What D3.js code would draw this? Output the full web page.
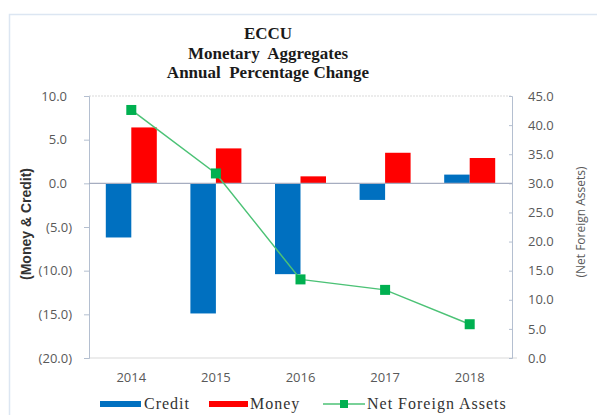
<!DOCTYPE html>
<html>
<head>
<meta charset="utf-8">
<script src="https://cdn.jsdelivr.net/npm/d3@7"></script>
<style>
  body { margin: 0; background: #fff; }
  .tick text { font-family: "Open Sans", "DejaVu Sans", sans-serif; fill: #595959; }
</style>
</head>
<body>
<div id="chart"></div>
<script>
// ==============================
// Chart data
// ==============================
var years = ["2014", "2015", "2016", "2017", "2018"];
var credit = [-6.2, -14.9, -10.4, -1.9, 1.0];
var money = [6.4, 4.0, 0.8, 3.5, 2.9];
var nfa = [42.6, 31.7, 13.5, 11.7, 5.8];
var leftTicks = [10, 5, 0, -5, -10, -15, -20];
var rightTicks = [0, 5, 10, 15, 20, 25, 30, 35, 40, 45];
var titleLines = ["ECCU", "Monetary  Aggregates", "Annual  Percentage Change"];

// ==============================
// Setup SVG area
// ==============================
var svgWidth = 597, svgHeight = 415;
var margin = { top: 96, right: 85, bottom: 57, left: 89 };
var width = svgWidth - margin.left - margin.right;
var height = svgHeight - margin.top - margin.bottom;

var svg = d3.select("#chart").append("svg")
  .attr("width", svgWidth)
  .attr("height", svgHeight);

// Outer chart border (runs off the right/bottom edge)
svg.append("path")
  .attr("d", "M9.5,415 V14.5 H597")
  .attr("fill", "none")
  .attr("stroke", "#dce6f2")
  .attr("stroke-width", 1.5);

var chartGroup = svg.append("g")
  .attr("transform", `translate(${margin.left}, ${margin.top})`);

// Scales
var xScale = d3.scaleBand().domain(years).range([0, width]);
var yLeft = d3.scaleLinear().domain([-20, 10]).range([height, 0]);
var yRight = d3.scaleLinear().domain([0, 45]).range([height, 0]);

// Accounting style: negatives in brackets
var fmtLeft = function(d) {
  return d < 0 ? "(" + d3.format(".1f")(-d) + ")" : d3.format(".1f")(d);
};

// Top gridline and bottom border
chartGroup.append("line")
  .attr("x1", 0).attr("x2", width)
  .attr("y1", yLeft(10)).attr("y2", yLeft(10))
  .attr("stroke", "#d9d9d9").attr("stroke-dasharray", "2,1");
chartGroup.append("line")
  .attr("x1", 0).attr("x2", width + 5)
  .attr("y1", height).attr("y2", height)
  .attr("stroke", "#d9d9d9");

// Left axis
var gLeft = chartGroup.append("g")
  .call(d3.axisLeft(yLeft).tickValues(leftTicks).tickFormat(fmtLeft).tickSize(5).tickPadding(12));
gLeft.select(".domain").attr("stroke", "#b4bfd0");
gLeft.selectAll(".tick line").attr("stroke", "#b4bfd0");
gLeft.selectAll(".tick text")
  .style("font-size", "13px")
  .attr("dx", d => d >= 0 ? -5 : 0);

// Right axis
var gRight = chartGroup.append("g")
  .attr("transform", `translate(${width}, 0)`)
  .call(d3.axisRight(yRight).tickValues(rightTicks).tickFormat(d3.format(".1f")).tickSize(-3).tickPadding(16));
gRight.select(".domain").attr("stroke", "#b4bfd0");
gRight.selectAll(".tick line").attr("stroke", "#b4bfd0");
gRight.selectAll(".tick text").style("font-size", "13px");

// Bars
var barW = 25.5;
chartGroup.selectAll(".credit")
  .data(credit)
  .enter().append("rect")
  .attr("class", "credit")
  .attr("x", (d, i) => xScale(years[i]) + xScale.bandwidth() / 2 - barW)
  .attr("y", d => yLeft(Math.max(0, d)))
  .attr("width", barW)
  .attr("height", d => Math.abs(yLeft(d) - yLeft(0)))
  .attr("fill", "#0070c0");

chartGroup.selectAll(".money")
  .data(money)
  .enter().append("rect")
  .attr("class", "money")
  .attr("x", (d, i) => xScale(years[i]) + xScale.bandwidth() / 2)
  .attr("y", d => yLeft(Math.max(0, d)))
  .attr("width", barW)
  .attr("height", d => Math.abs(yLeft(d) - yLeft(0)))
  .attr("fill", "#ff0000");

// Zero line
chartGroup.append("line")
  .attr("x1", 0).attr("x2", width)
  .attr("y1", yLeft(0)).attr("y2", yLeft(0))
  .attr("stroke", "#a6adc0").attr("stroke-width", 1.2);

// Net foreign assets line
var line = d3.line()
  .x((d, i) => xScale(years[i]) + xScale.bandwidth() / 2)
  .y(d => yRight(d));

chartGroup.append("path")
  .datum(nfa)
  .attr("d", line)
  .attr("fill", "none")
  .attr("stroke", "#4cc276")
  .attr("stroke-width", 1.5);

var mk = 10;
chartGroup.selectAll(".nfa")
  .data(nfa)
  .enter().append("rect")
  .attr("class", "nfa")
  .attr("x", (d, i) => xScale(years[i]) + xScale.bandwidth() / 2 - mk / 2)
  .attr("y", d => yRight(d) - mk / 2)
  .attr("width", mk).attr("height", mk)
  .attr("fill", "#00b050");

// X axis labels
chartGroup.selectAll(".xlab")
  .data(years)
  .enter().append("text")
  .attr("class", "xlab")
  .attr("x", d => xScale(d) + xScale.bandwidth() / 2)
  .attr("y", height + 24)
  .attr("text-anchor", "middle")
  .style("font-family", "'Open Sans', 'DejaVu Sans', sans-serif")
  .style("font-size", "13px")
  .attr("fill", "#595959")
  .text(d => d);

// Title
svg.selectAll(".title")
  .data(titleLines)
  .enter().append("text")
  .attr("class", "title")
  .attr("x", 268)
  .attr("y", (d, i) => 39 + i * 19.5)
  .attr("text-anchor", "middle")
  .style("font-family", "'Liberation Serif', 'Times New Roman', serif")
  .style("font-weight", "bold")
  .style("font-size", "17px")
  .style("white-space", "pre")
  .attr("fill", "#1a1a1a")
  .text(d => d);

// Axis titles
svg.append("text")
  .attr("transform", "translate(31, 224) rotate(-90)")
  .attr("text-anchor", "middle")
  .style("font-family", "'Liberation Sans Narrow', 'Liberation Sans', sans-serif")
  .style("font-weight", "bold")
  .style("font-size", "14px")
  .attr("fill", "#333")
  .text("(Money & Credit)");

svg.append("text")
  .attr("transform", "translate(585, 222) rotate(-90)")
  .attr("text-anchor", "middle")
  .style("font-family", "'Open Sans', 'DejaVu Sans', sans-serif")
  .style("font-size", "12px")
  .attr("fill", "#595959")
  .text("(Net Foreign Assets)");

// ==============================
// Legend
// ==============================
var legY = 404;
var legend = svg.append("g");
legend.append("rect").attr("x", 100).attr("y", legY - 3).attr("width", 41).attr("height", 6).attr("fill", "#0070c0");
legend.append("rect").attr("x", 209).attr("y", legY - 3).attr("width", 39).attr("height", 6).attr("fill", "#ff0000");
legend.append("line").attr("x1", 323).attr("x2", 365).attr("y1", legY).attr("y2", legY)
  .attr("stroke", "#4cc276").attr("stroke-width", 1.5);
legend.append("rect").attr("x", 340).attr("y", legY - 4).attr("width", 8).attr("height", 8).attr("fill", "#00b050");

var legItems = [["Credit", 144], ["Money", 250], ["Net Foreign Assets", 367]];
legend.selectAll(".legtext")
  .data(legItems)
  .enter().append("text")
  .attr("x", d => d[1])
  .attr("y", legY + 5)
  .style("font-family", "'Liberation Serif', 'Times New Roman', serif")
  .style("font-size", "16px")
  .style("letter-spacing", "1px")
  .attr("fill", "#333")
  .text(d => d[0]);
</script>
</body>
</html>
